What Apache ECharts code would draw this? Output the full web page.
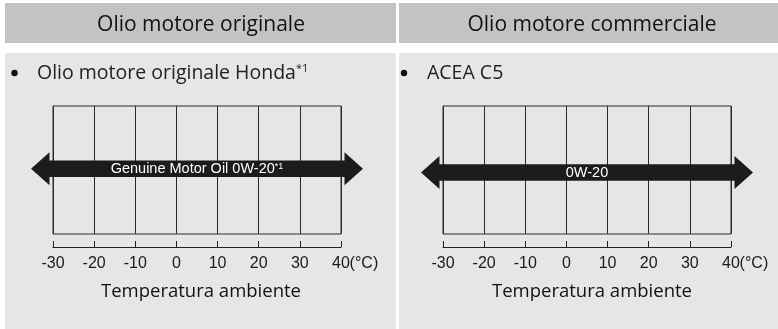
<!DOCTYPE html>
<html>
<head>
<meta charset="utf-8">
<script src="https://cdn.jsdelivr.net/npm/echarts@6/dist/echarts.min.js"></script>
<style>
  html, body { margin: 0; padding: 0; background: #fff; }
  #chart { width: 778px; height: 329px; }
</style>
</head>
<body>
<div id="chart"></div>
<script>
// panel headers
const panelTitles = ["Olio motore originale", "Olio motore commerciale"];
// bullet line under each header
const oilSpecs = ["Olio motore originale Honda", "ACEA C5"];
const specNotes = ["*1", ""];
// grade printed on each arrow
const oilGrades = ["Genuine Motor Oil 0W-20", "0W-20"];
const gradeNotes = ["*1", ""];
// usable temperature range of each grade (°C)
const gradeFrom = [-30, -30];
const gradeTo = [40, 40];
// temperature scale
const tempMin = -30;
const tempMax = 40;
const tempStep = 10;
const tempUnit = "(°C)";
const axisTitle = "Temperatura ambiente";

(function () {
  const dom = document.getElementById("chart");
  const chart = echarts.init(dom, null, { renderer: "canvas" });

  const HEAD_BG = "#c3c3c3";
  const BODY_BG = "#e6e6e6";
  const INK = "#1c1c1c";
  const UI_FONT = "'Open Sans', 'Noto Sans', sans-serif";
  const CHART_FONT = "'Liberation Sans', Arial, sans-serif";

  const panels = [
    { x: 5, w: 391, gridLeft: 53, titleX: 201, dotX: 14.5, textX: 37, level: 0.51 },
    { x: 399, w: 379, gridLeft: 443, titleX: 592, dotX: 404, textX: 427, level: 0.48 }
  ];

  const graphic = [];
  panels.forEach((p, i) => {
    graphic.push(
      { type: "rect", z: -10, silent: true, shape: { x: p.x, y: 3, width: p.w, height: 40 }, style: { fill: HEAD_BG } },
      { type: "rect", z: -10, silent: true, shape: { x: p.x, y: 53, width: p.w, height: 276 }, style: { fill: BODY_BG } },
      {
        type: "text", z: 10, x: p.titleX, y: 25,
        style: { text: panelTitles[i], align: "center", verticalAlign: "middle", font: "21px " + UI_FONT, fill: "#111" }
      },
      { type: "circle", z: 10, shape: { cx: p.dotX, cy: 73, r: 3.2 }, style: { fill: "#111" } },
      {
        type: "text", z: 10, x: p.textX, y: 73,
        style: {
          text: "{m|" + oilSpecs[i] + "}" + (specNotes[i] ? "{s|" + specNotes[i] + "}" : ""),
          align: "left", verticalAlign: "middle", fill: "#222",
          rich: {
            m: { fontSize: 19.5, fontFamily: UI_FONT },
            s: { fontSize: 11, fontFamily: UI_FONT, verticalAlign: "top" }
          }
        }
      },
      {
        type: "text", z: 10, x: p.titleX, y: 292,
        style: { text: axisTitle, align: "center", verticalAlign: "middle", font: "18.5px " + UI_FONT, fill: "#111" }
      }
    );
  });

  function renderArrow(params, api) {
    const a = api.coord([api.value(0), api.value(2)]);
    const b = api.coord([api.value(1), api.value(2)]);
    const y = a[1];
    const hb = 8.3, hh = 16.5, gap = 3.5, tip = 22;
    const lb = a[0] - gap, lt = a[0] - tip, rb = b[0] + gap, rt = b[0] + tip;
    const i = params.seriesIndex;
    return {
      type: "group",
      children: [
        {
          type: "polygon",
          shape: {
            points: [
              [lt, y], [lb, y - hh], [lb, y - hb], [rb, y - hb], [rb, y - hh],
              [rt, y], [rb, y + hh], [rb, y + hb], [lb, y + hb], [lb, y + hh]
            ]
          },
          style: { fill: INK }
        },
        {
          type: "text",
          style: {
            x: (a[0] + b[0]) / 2, y: y + 0.5,
            text: "{m|" + oilGrades[i] + "}" + (gradeNotes[i] ? "{s|" + gradeNotes[i] + "}" : ""),
            align: "center", verticalAlign: "middle", fill: "#fff",
            rich: {
              m: { fontSize: 14.5, fontFamily: CHART_FONT, fill: "#fff" },
              s: { fontSize: 9, fontFamily: CHART_FONT, fill: "#fff", verticalAlign: "top" }
            }
          }
        }
      ]
    };
  }

  // keep the number centred on its tick and hang the unit to the right
  function tempLabel(v) {
    if (v === tempMax) return "{p|}{v|" + v + "}{u|" + tempUnit + "}";
    return "{v|" + v + "}";
  }

  const option = {
    animation: false,
    backgroundColor: "#fff",
    graphic: graphic,
    grid: panels.map((p) => ({
      left: p.gridLeft, top: 106, width: 288, height: 128,
      show: true, borderColor: "#2a2a2a", borderWidth: 1, backgroundColor: "transparent"
    })),
    xAxis: panels.map((p, i) => ({
      type: "value", gridIndex: i,
      min: tempMin, max: tempMax, interval: tempStep,
      offset: 13,
      axisLine: { show: true, onZero: false, lineStyle: { color: "#222", width: 1 } },
      axisTick: { show: true, inside: true, length: 6, lineStyle: { color: "#222", width: 1 } },
      axisLabel: {
        margin: 9, color: "#1a1a1a", hideOverlap: false,
        formatter: tempLabel,
        rich: {
          v: { fontFamily: CHART_FONT, fontSize: 16, color: "#1a1a1a" },
          p: { width: 28 },
          u: { fontFamily: CHART_FONT, fontSize: 16, color: "#1a1a1a", width: 28, align: "left" }
        }
      },
      splitLine: { show: true, lineStyle: { color: "#2a2a2a", width: 1 } }
    })),
    yAxis: panels.map((p, i) => ({ type: "value", gridIndex: i, min: 0, max: 1, show: false })),
    series: panels.map((p, i) => ({
      type: "custom", xAxisIndex: i, yAxisIndex: i,
      renderItem: renderArrow,
      data: [[gradeFrom[i], gradeTo[i], p.level]],
      z: 5
    }))
  };

  chart.setOption(option);
})();
</script>
</body>
</html>
